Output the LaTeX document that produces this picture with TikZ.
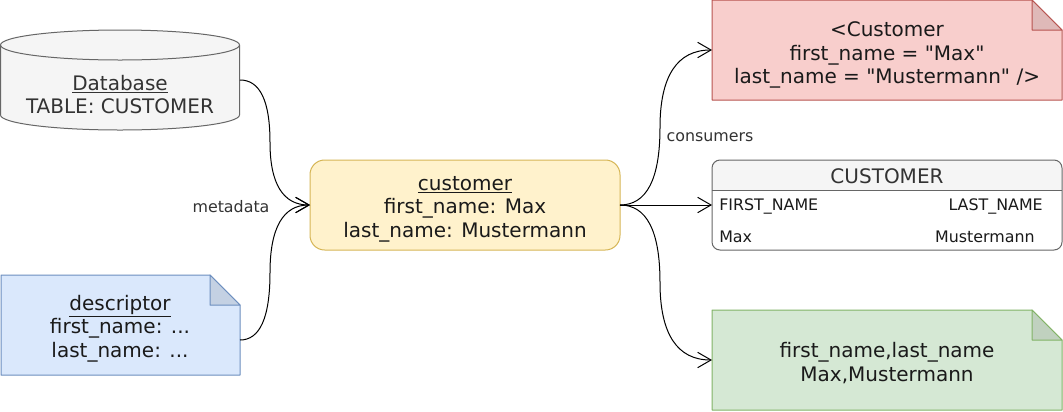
\documentclass[tikz,border=0pt]{standalone}
\usepackage{fontspec}
\setmainfont{DejaVu Sans}[Ligatures=TeXOff]
\usetikzlibrary{arrows.meta,calc}
\definecolor{dbfill}{HTML}{F5F5F5}
\definecolor{graystroke}{HTML}{666666}
\definecolor{graytext}{HTML}{333333}
\definecolor{darktext}{HTML}{1A1A1A}
\definecolor{bluefill}{HTML}{DAE8FC}
\definecolor{bluestroke}{HTML}{6C8EBF}
\definecolor{yelfill}{HTML}{FFF2CC}
\definecolor{yelstroke}{HTML}{D6B656}
\definecolor{redfill}{HTML}{F8CECC}
\definecolor{redstroke}{HTML}{B85450}
\definecolor{grnfill}{HTML}{D5E8D4}
\definecolor{grnstroke}{HTML}{82B366}
\newcommand\bigtext{\fontsize{15pt}{17.6pt}\selectfont}
\newcommand\smalltext{\fontsize{11.9pt}{14pt}\selectfont}
% quadratic-style orthogonal curve: start, end, x-coordinate of the vertical run
\newcommand\ocurve[3]{%
  \coordinate (q1) at (#3 |- #1);
  \coordinate (q2) at (#3 |- #2);
  \coordinate (mm) at ($(q1)!0.5!(q2)$);
  \draw[conn] (#1) .. controls ($(#1)!2/3!(q1)$) and ($(mm)!2/3!(q1)$) .. (mm)
     .. controls ($(mm)!2/3!(q2)$) and ($(#2)!2/3!(q2)$) .. (#2);
}
% dog-eared note outline around a named node: node, fill, stroke
\newcommand\notebg[3]{%
  \filldraw[fill=#2, draw=#3, frame] (#1.north west) -- ($(#1.north east)+(-30,0)$)
    -- ($(#1.north east)+(0,30)$) -- (#1.south east) -- (#1.south west) -- cycle;
  \filldraw[fill=#2!90!black, draw=#3, frame] ($(#1.north east)+(-30,0)$)
    -- ($(#1.north east)+(-30,30)$) -- ($(#1.north east)+(0,30)$) -- cycle;
}
\begin{document}
\begin{tikzpicture}[x=0.75pt,y=-0.75pt,
  frame/.style={line width=0.75pt, line join=round},
  shapebox/.style={inner sep=0pt, outer sep=0pt},
  conn/.style={line width=0.75pt, black, -{Straight Barb[length=10pt,width=11.5pt]}},
  txt/.style={align=center, inner sep=0pt, anchor=base, font=\bigtext, text=darktext},
  lbl/.style={inner sep=0pt, font=\smalltext, text=graytext},
  rowtxt/.style={inner sep=0pt, font=\smalltext, text=darktext}]
\useasboundingbox (0,0) rectangle (1063,411);
\fill[white] (0,0) rectangle (1063,411);

% Database cylinder
\node[shapebox, minimum width=180pt, minimum height=75pt] (db) at (120,80) {};
\filldraw[fill=dbfill, draw=graystroke, frame] (0.5,45) -- (0.5,115)
  arc[start angle=180, end angle=360, x radius=89.625pt, y radius=11.25pt] -- (239.5,45)
  arc[start angle=0, end angle=180, x radius=89.625pt, y radius=11.25pt] -- cycle;
\draw[graystroke, frame] (0.5,45) arc[start angle=180, end angle=360, x radius=89.625pt, y radius=11.25pt];
\node[txt, text=graytext] (dbtxt) at (120,113.5) {\underline{Database}\\TABLE: CUSTOMER};

% descriptor note
\node[shapebox, minimum width=179.25pt, minimum height=75pt] (desc) at (120.5,325) {};
\notebg{desc}{bluefill}{bluestroke}
\node[txt] (desctxt) at (120,357) {\underline{descriptor}\\first\_name: ...\\last\_name: ...};

% customer
\node[shapebox, minimum width=232.5pt, minimum height=67.5pt, rounded corners=11pt,
      fill=yelfill, draw=yelstroke, frame] (cust) at (465,205) {};
\node[txt] (custtxt) at (465,237) {\underline{customer}\\first\_name: Max\\last\_name: Mustermann};

% XML note
\node[shapebox, minimum width=262.5pt, minimum height=75pt] (red) at (887,50) {};
\notebg{red}{redfill}{redstroke}
\node[txt] (redtxt) at (887,83.5) {<Customer\\first\_name = "Max"\\last\_name = "Mustermann" />};

% table
\node[shapebox, minimum width=262.5pt, minimum height=67.5pt] (tbl) at (887,205) {};
\begin{scope}
  \clip[rounded corners=6pt] (tbl.south west) rectangle (tbl.north east);
  \fill[white] (tbl.south west) rectangle (tbl.north east);
  \fill[dbfill] (tbl.north west) rectangle ($(tbl.north east)+(0,30)$);
\end{scope}
\draw[graystroke, frame] ($(tbl.north west)+(0,30)$) -- ($(tbl.north east)+(0,30)$);
\draw[graystroke, frame, rounded corners=6pt] (tbl.south west) rectangle (tbl.north east);
\node[txt, text=graytext] (thead) at (887,183) {CUSTOMER};
\node[rowtxt, anchor=base west] (c1) at (719,210.5) {FIRST\_NAME};
\node[rowtxt, anchor=base east] (c2) at (1043,210.5) {LAST\_NAME};
\node[rowtxt, anchor=base west] (v1) at (719,242) {Max};
\node[rowtxt, anchor=base east] (v2) at (1035,242) {Mustermann};

% CSV note
\node[shapebox, minimum width=262.5pt, minimum height=75pt] (grn) at (887,360) {};
\notebg{grn}{grnfill}{grnstroke}
\node[txt] (grntxt) at (887,381) {first\_name,last\_name\\Max,Mustermann};

% connectors
\coordinate (lx) at (270,0);
\coordinate (rx) at (660,0);
\coordinate (descout) at ($(desc.east)+(0,15)$);
\ocurve{db.east}{cust.west}{lx}
\ocurve{descout}{cust.west}{lx}
\ocurve{cust.east}{red.west}{rx}
\draw[conn] (cust.east) -- (tbl.west);
\ocurve{cust.east}{grn.west}{rx}

\node[lbl] (meta) at (231,207) {metadata};
\node[lbl] (cons) at (710,137) {consumers};
\end{tikzpicture}
\end{document}
